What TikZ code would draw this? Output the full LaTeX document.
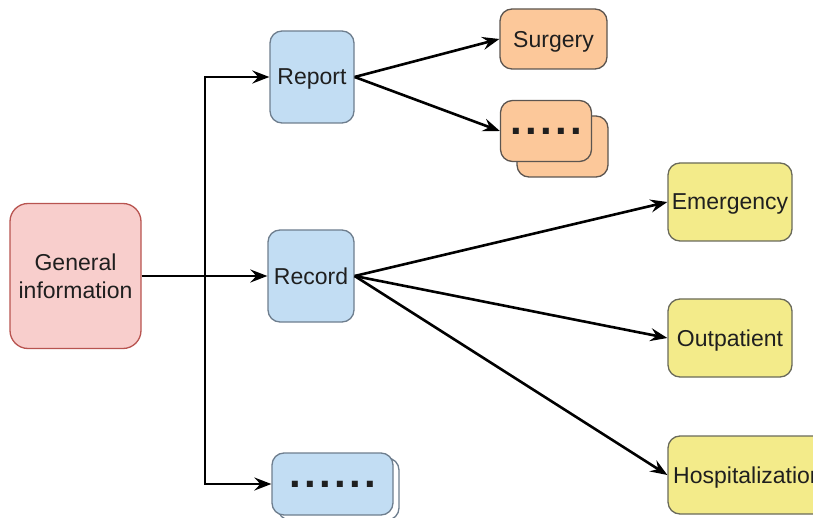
\documentclass[tikz,border=0pt]{standalone}
\usepackage{fontspec}
\setmainfont{Liberation Sans}
\usetikzlibrary{arrows.meta}
\definecolor{pinkfill}{HTML}{F8CECC}
\definecolor{pinkline}{HTML}{B85450}
\definecolor{bluefill}{HTML}{C2DDF3}
\definecolor{blueline}{HTML}{6E7E8E}
\definecolor{orangefill}{HTML}{FCC89A}
\definecolor{orangeline}{HTML}{5C5550}
\definecolor{yellowfill}{HTML}{F3EB8A}
\definecolor{yellowline}{HTML}{6A6A5A}

\begin{document}
\begin{tikzpicture}[x=1pt, y=-1pt,
  box/.style={rounded corners=12pt, line width=1.3pt, inner sep=0pt, text=black!88,
    text depth=0pt, font=\fontsize{23}{28}\selectfont},
  dots/.style={font=\fontsize{42}{42}\selectfont\bfseries\addfontfeature{LetterSpace=8}},
  arr/.style={-{Stealth[length=17pt,width=13pt,inset=6pt]}, line width=2.6pt}]
\useasboundingbox (0,0) rectangle (813,518);
\clip (0,0) rectangle (813,518);
% left and middle column
\node[box, fill=pinkfill, draw=pinkline, minimum width=131pt, minimum height=145pt,
  rounded corners=18pt, align=center] (gen) at (75.5,276) {General\\information};
\node[box, fill=bluefill, draw=blueline, minimum width=84pt, minimum height=92pt] (rep) at (312,77) {Report};
\node[box, fill=bluefill, draw=blueline, minimum width=86pt, minimum height=92pt] (rec) at (311,276) {Record};
\node[box, fill=white, draw=blueline, minimum width=121pt, minimum height=62pt] (more2) at (338.5,489) {};
\node[box, dots, fill=bluefill, draw=blueline, minimum width=121pt, minimum height=62pt] (more) at (332.5,484) {......};
% right column
\node[box, fill=orangefill, draw=orangeline, minimum width=107pt, minimum height=60pt] (sur) at (553.5,39) {Surgery};
\node[box, fill=orangefill, draw=orangeline, minimum width=91pt, minimum height=61pt] (etc2) at (562.5,146.5) {};
\node[box, dots, fill=orangefill, draw=orangeline, minimum width=91pt, minimum height=61pt] (etc) at (546,131) {.....};
\foreach \name/\txt/\x/\y/\w in {emg/Emergency/730/202/124, out/Outpatient/730/338/124, hos/Hospitalization/748/475/160}
  \node[box, fill=yellowfill, draw=yellowline, minimum width=\w pt, minimum height=78pt] (\name) at (\x,\y) {\txt};
% connectors
\coordinate (fork) at (205,276);
\draw[arr] (gen) -- (rec);
\draw[arr] (fork) |- (rep);
\draw[arr] (fork) |- (more);
\draw[arr] (rep.east) -- (sur.west);
\draw[arr] (rep.east) -- (etc.west);
\foreach \t in {emg,out,hos}
  \draw[arr] (rec.east) -- (\t.west);
\end{tikzpicture}
\end{document}
